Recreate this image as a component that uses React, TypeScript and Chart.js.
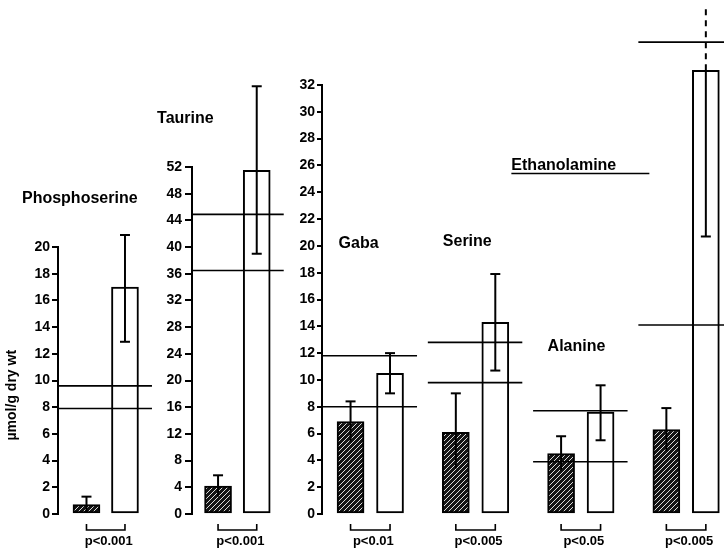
import React, { useEffect, useRef } from "react";
import { Chart, registerables } from "chart.js";
Chart.register(...registerables);

// ---------------- data ----------------
const aminoAcids = ["Phosphoserine", "Taurine", "Gaba", "Serine", "Alanine", "Ethanolamine"];
const patientMean = [0.7, 4.2, 6.9, 6.1, 4.5, 6.3];
const patientErrHigh = [1.3, 5.8, 8.4, 9.0, 5.8, 7.9];
const patientErrLow = [0.1, 2.6, 5.4, 3.4, 3.2, 4.7];
const controlMean = [17.0, 51.5, 10.5, 14.3, 7.6, 33.1];
const controlErrHigh = [20.9, 64.1, 12.0, 17.9, 9.6, 45.5];
const controlErrLow = [12.9, 39.0, 9.0, 10.7, 5.5, 20.7];
const normalUpper = [9.6, 44.9, 11.8, 12.8, 7.7, 35.2];
const normalLower = [7.9, 36.5, 8.0, 9.8, 3.9, 14.1];
const pValues = ["p<0.001", "p<0.001", "p<0.01", "p<0.005", "p<0.05", "p<0.005"];
const phosphoTicks = [0, 2, 4, 6, 8, 10, 12, 14, 16, 18, 20];
const taurineTicks = [0, 4, 8, 12, 16, 20, 24, 28, 32, 36, 40, 44, 48, 52];
const mainTicks = [0, 2, 4, 6, 8, 10, 12, 14, 16, 18, 20, 22, 24, 26, 28, 30, 32];
const yAxisTitle = "µmol/g dry wt";

// ---------------- layout ----------------
const PITCH = 8; // x-units between groups
const PAIR = 3; // x-units between patient and control bar
const H = 549;
const PAD_BOTTOM = 35;
// title placement: dx (px from patient bar centre), y in the panel's scale units
const titleDx = [-64.5, -61, -12, -13, -13.5, -155];
const titleY = [23.6, 59.2, 20.2, 20.3, 12.45, 26.0];

type Panel = {
  left: number;
  width: number;
  axisWidth: number;
  xMin: number;
  xMax: number;
  padTop: number;
  yMax: number;
  ticks: number[];
  tickLen: number;
  tickPad: number;
  family: string;
  groups: number[];
  yTitle: boolean;
};

const panels: Panel[] = [
  { left: 0, width: 165, axisWidth: 58, xMin: -2.22, xMax: 6.12, padTop: 247, yMax: 20, ticks: phosphoTicks, tickLen: 6, tickPad: 2, family: "'Liberation Sans', Arial, sans-serif", groups: [0], yTitle: true },
  { left: 140, width: 150, axisWidth: 52, xMin: -2.02, xMax: 5.58, padTop: 167, yMax: 52, ticks: taurineTicks, tickLen: 7, tickPad: 3, family: "'Liberation Sans', Arial, sans-serif", groups: [1], yTitle: false },
  { left: 285, width: 439, axisWidth: 37, xMin: -2.17, xMax: 28.38, padTop: 85, yMax: 32, ticks: mainTicks, tickLen: 5, tickPad: 2, family: "'Liberation Sans Narrow', 'Liberation Sans', Arial, sans-serif", groups: [2, 3, 4, 5], yTitle: false },
];

function makeHatch(): CanvasPattern | string {
  const c = document.createElement("canvas");
  c.width = 5;
  c.height = 5;
  const g = c.getContext("2d");
  if (!g) return "#111";
  g.fillStyle = "#141414";
  g.fillRect(0, 0, 5, 5);
  g.strokeStyle = "rgba(255,255,255,0.85)";
  g.lineWidth = 1;
  g.beginPath();
  g.moveTo(-1, 6);
  g.lineTo(6, -1);
  g.moveTo(-1, 1);
  g.lineTo(1, -1);
  g.moveTo(4, 6);
  g.lineTo(6, 4);
  g.stroke();
  const p = g.createPattern(c, "repeat");
  return p || "#111";
}

function line(ctx: CanvasRenderingContext2D, x1: number, y1: number, x2: number, y2: number) {
  ctx.beginPath();
  ctx.moveTo(x1, y1);
  ctx.lineTo(x2, y2);
  ctx.stroke();
}

function drawPanel(chart: any, panel: Panel) {
  const ctx: CanvasRenderingContext2D = chart.ctx;
  const xs = chart.scales.x;
  const ys = chart.scales.y;
  const area = chart.chartArea;
  ctx.save();
  ctx.strokeStyle = "#000";
  ctx.fillStyle = "#000";
  ctx.lineCap = "butt";

  panel.groups.forEach((gi, j) => {
    const xf = xs.getPixelForValue(j * PITCH);
    const xo = xs.getPixelForValue(j * PITCH + PAIR);

    // normal range lines
    ctx.lineWidth = 1.6;
    const l = Math.max(area.left, xf - 28);
    const r = Math.min(area.right, xo + 27);
    [normalUpper[gi], normalLower[gi]].forEach((v) => {
      const y = ys.getPixelForValue(v);
      line(ctx, l, y, r, y);
    });

    // patient error bar (cap on top)
    ctx.lineWidth = 2;
    const pHi = ys.getPixelForValue(patientErrHigh[gi]);
    const pLo = ys.getPixelForValue(patientErrLow[gi]);
    line(ctx, xf, pLo, xf, pHi);
    line(ctx, xf - 5, pHi, xf + 5, pHi);

    // control error bar
    const cHi = ys.getPixelForValue(controlErrHigh[gi]);
    const cLo = ys.getPixelForValue(controlErrLow[gi]);
    const cMean = ys.getPixelForValue(controlMean[gi]);
    line(ctx, xo - 5, cLo, xo + 5, cLo);
    if (cHi < 8) {
      line(ctx, xo, cLo, xo, cMean);
      ctx.setLineDash([6, 5]);
      line(ctx, xo, cMean, xo, 8);
      ctx.setLineDash([]);
    } else {
      line(ctx, xo, cLo, xo, cHi);
      line(ctx, xo - 5, cHi, xo + 5, cHi);
    }

    // significance bracket
    const base = area.bottom;
    ctx.lineWidth = 1.6;
    ctx.beginPath();
    ctx.moveTo(xf, base + 10);
    ctx.lineTo(xf, base + 16);
    ctx.lineTo(xo, base + 16);
    ctx.lineTo(xo, base + 10);
    ctx.stroke();
    ctx.font = "bold 13px 'Liberation Sans', Arial, sans-serif";
    ctx.textAlign = "center";
    ctx.textBaseline = "middle";
    ctx.fillText(pValues[gi], (xf + xo) / 2 + 3, base + 27);

    // amino acid title
    ctx.font = "bold 16px 'Liberation Sans', Arial, sans-serif";
    ctx.textAlign = "left";
    ctx.textBaseline = "middle";
    const tx = xf + titleDx[gi];
    const ty = ys.getPixelForValue(titleY[gi]);
    ctx.fillText(aminoAcids[gi], tx, ty);
    if (gi === 5) {
      ctx.lineWidth = 1.6;
      line(ctx, tx, ty + 8, xf - 17, ty + 8);
    }
  });

  if (panel.yTitle) {
    ctx.save();
    ctx.font = "bold 14px 'Liberation Sans', Arial, sans-serif";
    ctx.textAlign = "center";
    ctx.textBaseline = "middle";
    ctx.translate(12, ys.getPixelForValue(8.9));
    ctx.rotate(-Math.PI / 2);
    ctx.fillText(yAxisTitle, 0, 0);
    ctx.restore();
  }
  ctx.restore();
}

function PanelChart({ panel }: { panel: Panel }) {
  const ref = useRef<HTMLCanvasElement | null>(null);
  useEffect(() => {
    if (!ref.current) return;
    const hatch = makeHatch();
    const plugin = {
      id: "annot",
      afterDatasetsDraw(chart: any) {
        drawPanel(chart, panel);
      },
    };
    const chart = new Chart(ref.current, {
      type: "bar",
      data: {
        datasets: [
          {
            label: "patients",
            data: panel.groups.map((gi, j) => ({ x: j * PITCH, y: patientMean[gi] })),
            backgroundColor: hatch as any,
            borderColor: "#000",
            borderWidth: 2,
            borderSkipped: false,
            barThickness: 27,
            grouped: false,
            clip: false as any,
          },
          {
            label: "controls",
            data: panel.groups.map((gi, j) => ({ x: j * PITCH + PAIR, y: controlMean[gi] })),
            backgroundColor: "#fff",
            borderColor: "#000",
            borderWidth: 2,
            borderSkipped: false,
            barThickness: 27,
            grouped: false,
            clip: false as any,
          },
        ] as any,
      },
      options: {
        responsive: false,
        animation: false,
        events: [],
        layout: { padding: { top: panel.padTop, bottom: PAD_BOTTOM, left: 0, right: 0 } },
        plugins: { legend: { display: false }, tooltip: { enabled: false } },
        scales: {
          x: { type: "linear", display: false, offset: false, min: panel.xMin, max: panel.xMax },
          y: {
            type: "linear",
            min: 0,
            max: panel.yMax,
            afterFit: (s: any) => {
              s.width = panel.axisWidth;
            },
            afterBuildTicks: (s: any) => {
              s.ticks = panel.ticks.map((v) => ({ value: v }));
            },
            border: { display: true, color: "#000", width: 2 },
            grid: {
              display: true,
              drawOnChartArea: false,
              drawTicks: true,
              tickLength: panel.tickLen,
              tickWidth: 2,
              tickColor: "#000",
              color: "#000",
              lineWidth: 2,
            },
            ticks: {
              autoSkip: false,
              color: "#000",
              padding: panel.tickPad,
              font: { family: panel.family, size: 14, weight: "bold" },
            },
          },
        },
      } as any,
      plugins: [plugin],
    });
    return () => chart.destroy();
  }, [panel]);
  return (
    <canvas
      ref={ref}
      width={panel.width}
      height={H}
      style={{ position: "absolute", left: panel.left, top: 0, width: panel.width, height: H }}
    />
  );
}

export default function App() {
  useEffect(() => {
    document.body.style.margin = "0";
  }, []);
  return (
    <div style={{ position: "relative", width: 724, height: H, background: "#fff", overflow: "hidden" }}>
      {panels.map((p, i) => (
        <PanelChart key={i} panel={p} />
      ))}
    </div>
  );
}
